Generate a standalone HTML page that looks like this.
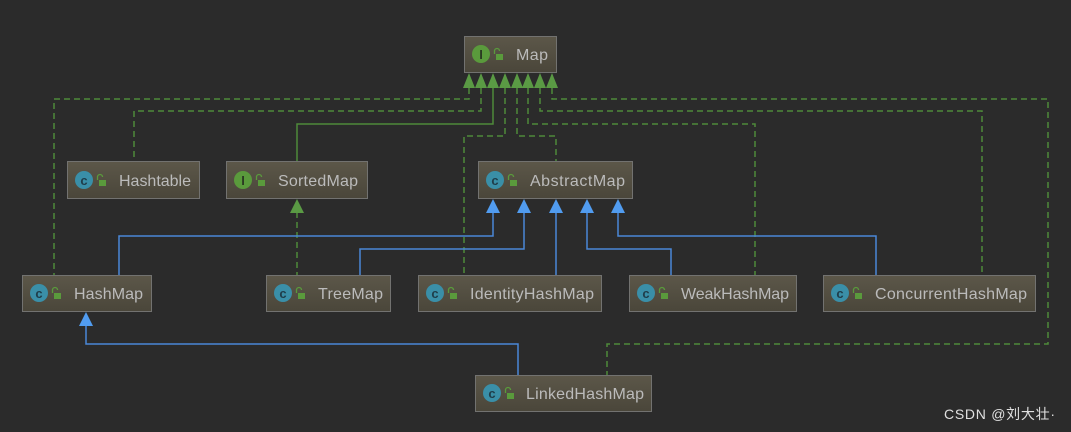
<!DOCTYPE html>
<html><head><meta charset="utf-8"><style>
html,body{margin:0;padding:0;background:#2b2b2b;}
svg{display:block;}
text{font-family:"Liberation Sans","Noto Sans CJK SC",sans-serif;}
</style></head><body>
<svg width="1071" height="432" viewBox="0 0 1071 432" xmlns="http://www.w3.org/2000/svg">
<defs>
<linearGradient id="g" x1="0" y1="0" x2="0" y2="1">
<stop offset="0" stop-color="#5c5749"/><stop offset="1" stop-color="#4a463a"/>
</linearGradient>
</defs>
<rect width="1071" height="432" fill="#2b2b2b"/>
<g fill="none" stroke="#4e8a3a" stroke-width="1.5" stroke-dasharray="6,4">
<polyline points="469,88 469,99 54,99 54,275"/>
<polyline points="481,88 481,111 134,111 134,161"/>
<polyline points="505,88 505,136 464,136 464,275"/>
<polyline points="517,88 517,136 556,136 556,161"/>
<polyline points="528,88 528,124 755,124 755,275"/>
<polyline points="540,88 540,111 982,111 982,275"/>
<polyline points="552,88 552,99 1048,99 1048,344 607,344 607,375"/>
<polyline points="297,212 297,275"/>
</g>
<polyline points="493,88 493,124 297,124 297,161" fill="none" stroke="#4e8a3a" stroke-width="1.5"/>
<g fill="#5a9a44">
<polygon points="463,88 475,88 469,73"/>
<polygon points="475,88 487,88 481,73"/>
<polygon points="487,88 499,88 493,73"/>
<polygon points="499,88 511,88 505,73"/>
<polygon points="511,88 523,88 517,73"/>
<polygon points="522,88 534,88 528,73"/>
<polygon points="534,88 546,88 540,73"/>
<polygon points="546,88 558,88 552,73"/>
<polygon points="290,213 304,213 297,199"/>
</g>
<g fill="none" stroke="#4a88d8" stroke-width="1.5">
<polyline points="493,212 493,236 119,236 119,275"/>
<polyline points="524,212 524,249 360,249 360,275"/>
<polyline points="556,212 556,275"/>
<polyline points="587,212 587,249 671,249 671,275"/>
<polyline points="618,212 618,236 876,236 876,275"/>
<polyline points="86,326 86,344 518,344 518,375"/>
</g>
<g fill="#519cf0">
<polygon points="486,213 500,213 493,199"/>
<polygon points="517,213 531,213 524,199"/>
<polygon points="549,213 563,213 556,199"/>
<polygon points="580,213 594,213 587,199"/>
<polygon points="611,213 625,213 618,199"/>
<polygon points="79,326 93,326 86,312"/>
</g>
<g stroke="#727270" stroke-width="1" fill="url(#g)">
<rect x="464.5" y="36.5" width="92" height="36"/>
<rect x="67.5" y="161.5" width="132" height="37"/>
<rect x="226.5" y="161.5" width="141" height="37"/>
<rect x="478.5" y="161.5" width="154" height="37"/>
<rect x="22.5" y="275.5" width="129" height="36"/>
<rect x="266.5" y="275.5" width="124" height="36"/>
<rect x="418.5" y="275.5" width="183" height="36"/>
<rect x="629.5" y="275.5" width="167" height="36"/>
<rect x="823.5" y="275.5" width="212" height="36"/>
<rect x="475.5" y="375.5" width="176" height="36"/>
</g>
<g font-size="13" font-weight="bold" text-anchor="middle">
<circle cx="481" cy="54" r="9" fill="#5a9a3c"/><text x="481" y="59" fill="#2b3a22">I</text>
<circle cx="84" cy="180" r="9" fill="#3a8fa8"/><text x="84" y="185" fill="#1f3d4a">c</text>
<circle cx="243" cy="180" r="9" fill="#5a9a3c"/><text x="243" y="185" fill="#2b3a22">I</text>
<circle cx="495" cy="180" r="9" fill="#3a8fa8"/><text x="495" y="185" fill="#1f3d4a">c</text>
<circle cx="39" cy="293" r="9" fill="#3a8fa8"/><text x="39" y="298" fill="#1f3d4a">c</text>
<circle cx="283" cy="293" r="9" fill="#3a8fa8"/><text x="283" y="298" fill="#1f3d4a">c</text>
<circle cx="435" cy="293" r="9" fill="#3a8fa8"/><text x="435" y="298" fill="#1f3d4a">c</text>
<circle cx="646" cy="293" r="9" fill="#3a8fa8"/><text x="646" y="298" fill="#1f3d4a">c</text>
<circle cx="840" cy="293" r="9" fill="#3a8fa8"/><text x="840" y="298" fill="#1f3d4a">c</text>
<circle cx="492" cy="393" r="9" fill="#3a8fa8"/><text x="492" y="398" fill="#1f3d4a">c</text>
</g>
<g fill="#5a9a3c">
<rect x="496" y="54" width="7" height="6"/>
<rect x="99" y="180" width="7" height="6"/>
<rect x="258" y="180" width="7" height="6"/>
<rect x="510" y="180" width="7" height="6"/>
<rect x="54" y="293" width="7" height="6"/>
<rect x="298" y="293" width="7" height="6"/>
<rect x="450" y="293" width="7" height="6"/>
<rect x="661" y="293" width="7" height="6"/>
<rect x="855" y="293" width="7" height="6"/>
<rect x="507" y="393" width="7" height="6"/>
</g>
<g fill="none" stroke="#5a9a3c" stroke-width="1.3">
<path d="M494.5,54 v-3 a2.5,2.5 0 0 1 5,0"/>
<path d="M97.5,180 v-3 a2.5,2.5 0 0 1 5,0"/>
<path d="M256.5,180 v-3 a2.5,2.5 0 0 1 5,0"/>
<path d="M508.5,180 v-3 a2.5,2.5 0 0 1 5,0"/>
<path d="M52.5,293 v-3 a2.5,2.5 0 0 1 5,0"/>
<path d="M296.5,293 v-3 a2.5,2.5 0 0 1 5,0"/>
<path d="M448.5,293 v-3 a2.5,2.5 0 0 1 5,0"/>
<path d="M659.5,293 v-3 a2.5,2.5 0 0 1 5,0"/>
<path d="M853.5,293 v-3 a2.5,2.5 0 0 1 5,0"/>
<path d="M505.5,393 v-3 a2.5,2.5 0 0 1 5,0"/>
</g>
<g font-size="16" fill="#bbbbbb">
<text x="516" y="60" textLength="32">Map</text>
<text x="119" y="186" textLength="72">Hashtable</text>
<text x="278" y="186" textLength="80">SortedMap</text>
<text x="530" y="186" textLength="95">AbstractMap</text>
<text x="74" y="299" textLength="69">HashMap</text>
<text x="318" y="299" textLength="65">TreeMap</text>
<text x="470" y="299" textLength="124">IdentityHashMap</text>
<text x="681" y="299" textLength="108">WeakHashMap</text>
<text x="875" y="299" textLength="152">ConcurrentHashMap</text>
<text x="526" y="399" textLength="118">LinkedHashMap</text>
</g>
<text x="944" y="419" font-size="14" fill="#e0e0e0" textLength="111">CSDN @刘大壮·</text>
</svg>
</body></html>
